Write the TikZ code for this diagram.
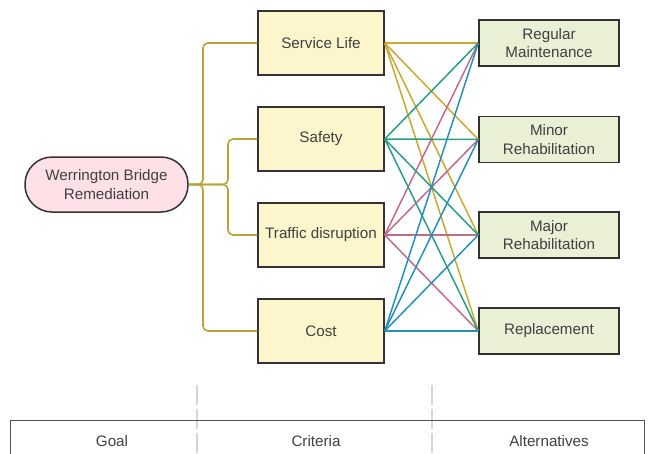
\documentclass[tikz,border=0pt]{standalone}
\usepackage{fontspec}
\setmainfont{Liberation Sans}
\begin{document}
\begin{tikzpicture}[x=1pt,y=-1pt,
  txt/.style={text=txtgray,font=\fontsize{15.2}{18.3}\selectfont,align=center},
  goalbox/.style={txt,draw=boxborder,line width=1.5pt,fill=goalfill,minimum width=163pt,minimum height=55pt,rounded corners=27pt,inner sep=0pt},
  critbox/.style={txt,draw=boxborder,line width=1.5pt,fill=critfill,minimum width=126pt,minimum height=64pt,inner sep=0pt},
  altbox/.style={txt,draw=boxborder,line width=1.5pt,fill=altfill,minimum width=140pt,minimum height=46pt,inner sep=0pt},
  tree/.style={draw=treecol,line width=1.6pt,rounded corners=5pt},
  link/.style={line width=1.5pt},
  sep/.style={draw=sepgray,line width=1.2pt,dash pattern=on 20pt off 4pt}
]
\definecolor{txtgray}{HTML}{404040}
\definecolor{boxborder}{HTML}{333333}
\definecolor{goalfill}{HTML}{FDE1E7}
\definecolor{critfill}{HTML}{FDF5CB}
\definecolor{altfill}{HTML}{EAF0D6}
\definecolor{treecol}{HTML}{B9A33C}
\definecolor{cSL}{HTML}{C9A835}
\definecolor{cSA}{HTML}{2A9D82}
\definecolor{cTD}{HTML}{C26C8C}
\definecolor{cCO}{HTML}{2A8FB8}
\definecolor{sepgray}{HTML}{D6D6D6}
\useasboundingbox (0,0) rectangle (651,453);

% separators and bottom band
\draw[sep] (197,385) -- (197,453);
\draw[sep] (432,385) -- (432,453);
\draw[draw=boxborder!85,line width=1.4pt] (10.5,460) -- (10.5,420.7) -- (644.5,420.7) -- (644.5,460);
\node[txt] (lgoal) at (112,441) {Goal};
\node[txt] (lcrit) at (316,441) {Criteria};
\node[txt] (lalt) at (549,441) {Alternatives};

% nodes
\node[goalbox] (goal) at (106.5,184.5) {Werrington Bridge\\Remediation};
\node[critbox] (sl) at (321,43) {Service Life};
\node[critbox] (sa) at (321,139) {Safety};
\node[critbox] (td) at (321,235) {Traffic disruption};
\node[critbox] (co) at (321,331) {Cost};
\node[altbox] (rm) at (549,43) {Regular\\Maintenance};
\node[altbox] (mi) at (549,139.5) {Minor\\Rehabilitation};
\node[altbox] (ma) at (549,235) {Major\\Rehabilitation};
\node[altbox] (re) at (549,331) {Replacement};

% tree from goal to criteria
\draw[tree] (goal.east) -| (203,120) |- (sl.west);
\draw[tree] (goal.east) -| (203,250) |- (co.west);
\draw[tree] (goal.east) -| (228,160) |- (sa.west);
\draw[tree] (goal.east) -| (228,210) |- (td.west);

% links criteria -> alternatives
\foreach \a in {rm,mi,ma,re}{
  \draw[link,cSL] (sl.east) -- (\a.west);
}
\foreach \a in {rm,mi,ma,re}{
  \draw[link,cTD] (td.east) -- (\a.west);
}
\foreach \a in {rm,mi,ma,re}{
  \draw[link,cSA] (sa.east) -- (\a.west);
}
\foreach \a in {rm,mi,ma,re}{
  \draw[link,cCO] (co.east) -- (\a.west);
}
\end{tikzpicture}
\end{document}
